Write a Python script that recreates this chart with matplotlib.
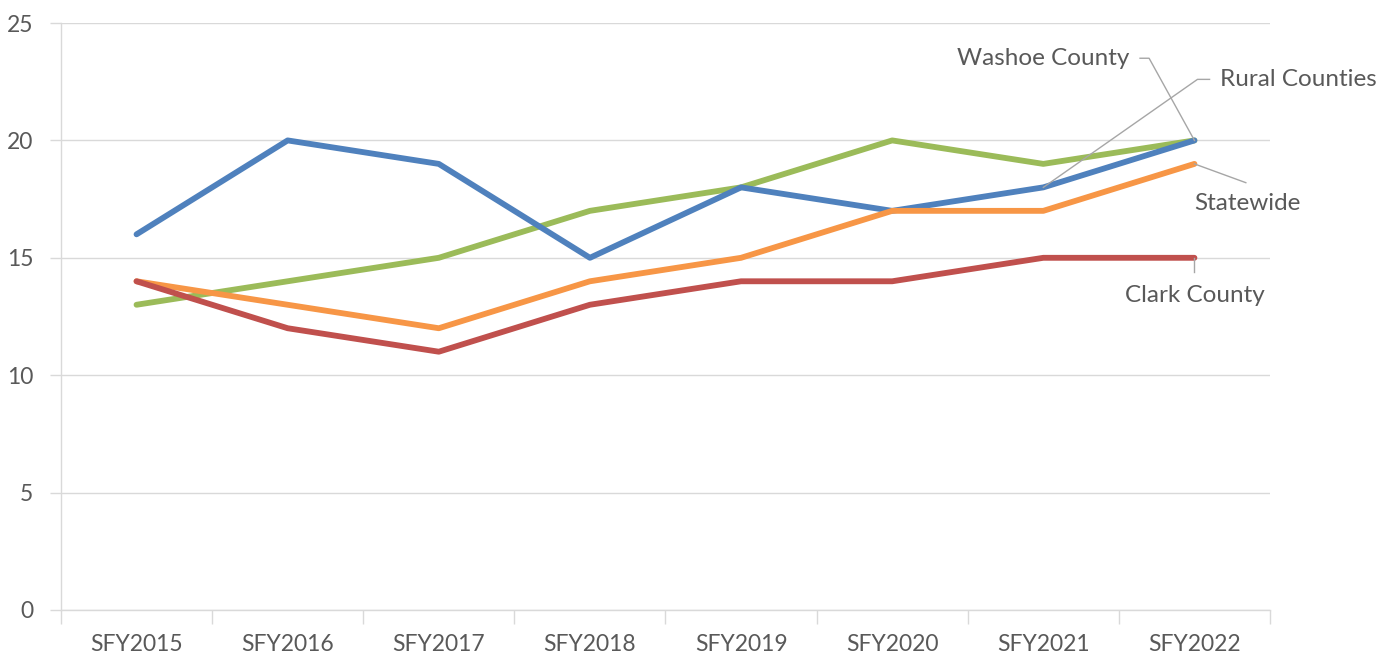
import numpy as np
import matplotlib.pyplot as plt

years = ['SFY2015', 'SFY2016', 'SFY2017', 'SFY2018', 'SFY2019', 'SFY2020', 'SFY2021', 'SFY2022']
rural = [16, 20, 19, 15, 18, 17, 18, 20]
clark = [14, 12, 11, 13, 14, 14, 15, 15]
washoe = [13, 14, 15, 17, 18, 20, 19, 20]
statewide = [14, 13, 12, 14, 15, 17, 17, 19]

plt.rcParams['font.family'] = ['Lato', 'DejaVu Sans']
txt_col = '#595959'
grid_col = '#D9D9D9'
lead_col = '#A6A6A6'
fs = 16.5
lab_fs = 17.5
lw = 4.2

fig = plt.figure(figsize=(13.95, 6.58), dpi=100)
ax = fig.add_axes([0.0437, 0.073, 0.8667, 0.892])

x = np.arange(len(years))
ax.plot(x, washoe, color='#9BBB59', lw=lw, solid_capstyle='round', solid_joinstyle='round')
ax.plot(x, rural, color='#4F81BD', lw=lw, solid_capstyle='round', solid_joinstyle='round')
ax.plot(x, statewide, color='#F79646', lw=lw, solid_capstyle='round', solid_joinstyle='round')
ax.plot(x, clark, color='#C0504D', lw=lw, solid_capstyle='round', solid_joinstyle='round')

ax.set_xlim(-0.5, len(years) - 0.5)
ax.set_ylim(0, 25)
ax.set_yticks(range(0, 26, 5))
ax.yaxis.grid(True, color=grid_col, lw=1)
ax.set_axisbelow(True)

ax.set_xticks(x)
ax.set_xticklabels(years)
ax.set_xticks(np.arange(-0.5, len(years), 1), minor=True)
ax.tick_params(axis='x', which='major', length=0, pad=17, labelsize=fs, labelcolor=txt_col)
ax.tick_params(axis='x', which='minor', length=10, color=grid_col, width=1)
ax.tick_params(axis='y', length=8, color=grid_col, width=1, pad=12, labelsize=fs, labelcolor=txt_col)

for s in ['top', 'right']:
    ax.spines[s].set_visible(False)
for s in ['left', 'bottom']:
    ax.spines[s].set_color(grid_col)
    ax.spines[s].set_linewidth(1)

# series labels with leader lines
ax.text(6.0, 23.5, 'Washoe County', ha='center', va='center', fontsize=lab_fs, color=txt_col)
ax.plot([6.64, 6.70, 7], [23.5, 23.5, 20], color=lead_col, lw=1, clip_on=False)

ax.text(7.17, 22.6, 'Rural Counties', ha='left', va='center', fontsize=lab_fs, color=txt_col)
ax.plot([7.10, 7.02, 6], [22.6, 22.6, 18], color=lead_col, lw=1, clip_on=False)

ax.text(7.35, 17.3, 'Statewide', ha='center', va='center', fontsize=lab_fs, color=txt_col)
ax.plot([7, 7.34], [19, 18.2], color=lead_col, lw=1, clip_on=False)

ax.text(7.0, 13.4, 'Clark County', ha='center', va='center', fontsize=lab_fs, color=txt_col)
ax.plot([7, 7], [15, 14.4], color=lead_col, lw=1, clip_on=False)

fig.savefig('out.png', dpi=100)
